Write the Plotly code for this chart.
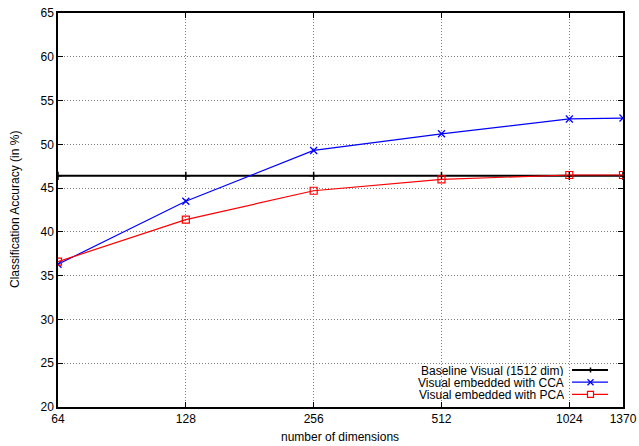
import math
import plotly.graph_objects as go

dims = [64, 128, 256, 512, 1024, 1370]
tick_labels = ["64", "128", "256", "512", "1024", "1370"]
baseline = [46.4, 46.4, 46.4, 46.4, 46.4, 46.4]
cca = [36.3, 43.5, 49.3, 51.2, 52.9, 53.0]
pca = [36.6, 41.4, 44.7, 46.0, 46.5, 46.5]
series_names = ["Baseline Visual (1512 dim)", "Visual embedded with CCA", "Visual embedded with PCA"]

FONT = "Liberation Sans, Arial, Helvetica, sans-serif"

fig = go.Figure()
fig.add_trace(go.Scatter(x=dims, y=baseline, name=series_names[0], mode="lines+markers",
                         line=dict(color="black", width=2),
                         marker=dict(symbol="cross-thin", size=6, line=dict(color="black", width=1.5))))
fig.add_trace(go.Scatter(x=dims, y=cca, name=series_names[1], mode="lines+markers",
                         line=dict(color="#0000ff", width=1.2),
                         marker=dict(symbol="x-thin", size=7, line=dict(color="#0000ff", width=1.3))))
fig.add_trace(go.Scatter(x=dims, y=pca, name=series_names[2], mode="lines+markers",
                         line=dict(color="#ff0000", width=1.2),
                         marker=dict(symbol="square-open", size=7, color="#ff0000", line=dict(width=1.2))))

W, H = 639, 446
ml, mr, mt, mb = 58, 16, 13, 39
pw, ph = W - ml - mr, H - mt - mb

def px_x(x):
    return (x - ml) / pw

def px_y(y):
    return 1 - (y - mt) / ph

colors = ["black", "#0000ff", "#ff0000"]
rows_y = [370, 382.2, 394.4]
annotations = []
shapes = []
for name, col, yy in zip(series_names, colors, rows_y):
    annotations.append(dict(x=px_x(564.5), y=px_y(yy), xref="paper", yref="paper", text=name,
                            showarrow=False, xanchor="right", yanchor="middle", height=11,
                            valign="middle", borderpad=0,
                            font=dict(family=FONT, size=12, color="black")))
    shapes.append(dict(type="line", xref="paper", yref="paper", x0=px_x(572), x1=px_x(608),
                       y0=px_y(yy), y1=px_y(yy), line=dict(color=col, width=2 if col == "black" else 1.2)))
cx = 590.5
shapes.append(dict(type="line", xref="paper", yref="paper", x0=px_x(cx), x1=px_x(cx),
                   y0=px_y(rows_y[0] - 2.5), y1=px_y(rows_y[0] + 2.5), line=dict(color="black", width=1.5)))
for d in (1, -1):
    shapes.append(dict(type="line", xref="paper", yref="paper", x0=px_x(cx - 3), x1=px_x(cx + 3),
                       y0=px_y(rows_y[1] - 3 * d), y1=px_y(rows_y[1] + 3 * d), line=dict(color="#0000ff", width=1.3)))
shapes.append(dict(type="rect", xref="paper", yref="paper", x0=px_x(cx - 3), x1=px_x(cx + 3),
                   y0=px_y(rows_y[2] - 3), y1=px_y(rows_y[2] + 3), line=dict(color="#ff0000", width=1.2),
                   fillcolor="white"))

annotations.append(dict(x=px_x(340), y=px_y(437), xref="paper", yref="paper", text="number of dimensions",
                        showarrow=False, xanchor="center", yanchor="middle",
                        font=dict(family=FONT, size=12, color="black")))
annotations.append(dict(x=px_x(15), y=px_y(210), xref="paper", yref="paper",
                        text="Classification Accuracy (in %)", textangle=-90,
                        showarrow=False, xanchor="center", yanchor="middle",
                        font=dict(family=FONT, size=12, color="black")))

fig.update_layout(
    width=W, height=H,
    margin=dict(l=ml, r=mr, t=mt, b=mb, autoexpand=False),
    paper_bgcolor="white", plot_bgcolor="white",
    showlegend=False,
    font=dict(family=FONT, size=12, color="black"),
    annotations=annotations,
    shapes=shapes,
)
fig.update_xaxes(type="log", range=[math.log10(64), math.log10(1370)],
                 tickvals=dims, ticktext=tick_labels, automargin=False,
                 showline=True, linecolor="black", linewidth=1.5, mirror="ticks",
                 ticks="inside", ticklen=5, tickcolor="black",
                 showgrid=True, gridcolor="#808080", griddash="1px,2px", gridwidth=1,
                 zeroline=False, tickfont=dict(size=12))
fig.update_yaxes(range=[20, 65], dtick=5, automargin=False,
                 showline=True, linecolor="black", linewidth=1.5, mirror="ticks",
                 ticks="inside", ticklen=5, tickcolor="black",
                 showgrid=True, gridcolor="#808080", griddash="1px,2px", gridwidth=1,
                 zeroline=False, tickfont=dict(size=12))

fig.write_html("out.html", config={"displayModeBar": False},
               post_script="document.body.style.margin='0';document.body.style.padding='0';")
